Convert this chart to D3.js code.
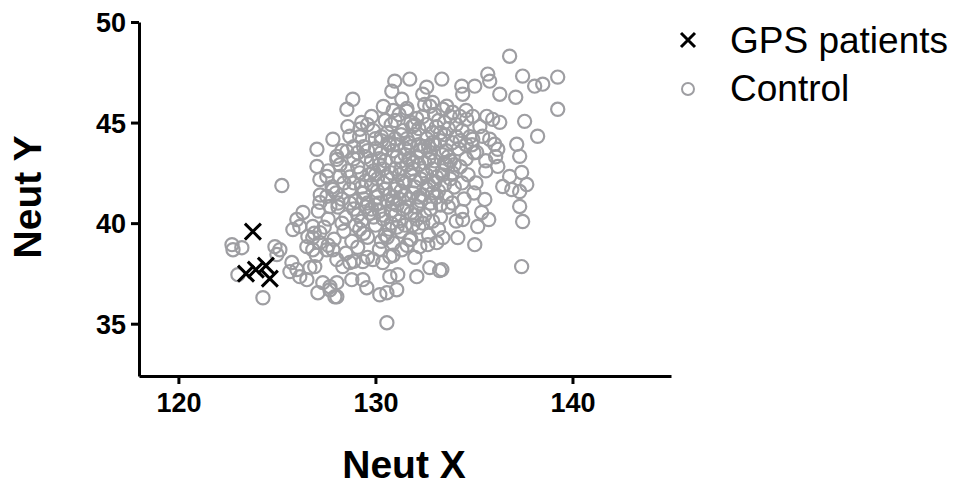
<!DOCTYPE html>
<html>
<head>
<meta charset="utf-8">
<script src="https://d3js.org/d3.v7.min.js"></script>
<style>
  body { margin: 0; background: #fff; }
  svg text { font-family: "Liberation Sans", Arial, Helvetica, sans-serif; }
</style>
</head>
<body>
<script>
// GPS patients (Neut X, Neut Y)
const gpsX = [123.78, 123.43, 123.93, 124.44, 124.64];
const gpsY = [39.58, 37.49, 37.69, 37.89, 37.24];

// control points, [Neut X, Neut Y]
const controlEdge = [
  [122.72,38.93],[122.77,38.68],[123.22,38.78],[123.02,37.44],[124.29,36.29],[125.25,41.87],
  [124.9,38.83],[125.15,38.68],[125.0,38.44],[127.03,42.82],[127.03,43.67],[128.04,43.17],
  [127.18,42.17],[127.53,42.32],[126.01,40.18],[126.32,40.53],[126.16,39.83],[125.81,39.68],
  [126.82,39.83],[127.18,39.53],[126.82,39.28],[126.57,39.33],[125.76,38.04],[126.01,37.69],
  [126.16,37.34],[125.66,37.59],[126.67,37.79],[126.92,37.84],[126.52,37.19],[127.08,36.54],
  [127.69,36.69],[127.94,36.34],[128.04,37.04],[127.33,37.04],[126.52,38.83],[126.82,38.68],
  [127.18,39.03],[127.53,38.68],[127.84,38.68],[127.69,40.83],[127.84,41.67],[127.53,41.33],
  [127.18,41.03],
  [130.58,35.05],[128.04,36.34],[127.69,36.84],[128.80,37.19],[129.36,37.19],[129.56,36.79],
  [130.22,36.44],[130.58,36.54],[131.08,36.69],[130.73,37.34],[131.13,37.44],[132.10,37.34],
  [132.76,37.79],[133.26,37.64],[132.25,38.83],[132.66,38.93],[133.11,39.03],[133.42,39.28],
  [131.74,39.18],[131.34,38.68],[130.73,38.34],[130.37,38.04],[129.87,38.19],[129.36,38.09],
  [128.34,37.84],[128.70,38.04],[128.04,38.19],
  [136.46,41.82],[136.92,41.67],[137.32,41.57],[137.68,41.92],[135.55,41.18],[137.32,40.83],
  [135.39,40.53],[135.75,40.18],[137.47,40.08],[135.19,39.83],[134.43,40.18],[134.38,40.58],
  [134.18,39.28],[135.04,38.93],[137.42,37.84],[133.37,37.69],
  [136.81,48.3],[135.70,47.41],[135.80,47.06],[137.47,47.31],[138.08,46.81],[138.49,46.91],
  [139.25,47.26],[133.37,47.16],[134.38,46.81],[134.43,46.41],[135.04,46.81],[136.31,46.41],
  [137.12,46.26],[139.25,45.66],[137.57,45.06],[138.23,44.32],[137.17,43.92],[137.32,43.32],
  [136.21,42.82],[137.42,42.52],[136.81,42.32],[135.95,45.16],[136.31,45.01],[135.65,45.31],
  [135.44,44.32],[135.80,44.17],[136.05,43.92],[136.21,43.67],[134.94,44.17],[135.14,43.52],
  [133.62,45.81],[133.92,45.51],[134.28,45.31],[134.63,45.16],[134.94,45.31],
  [130.98,47.06],[131.74,47.16],[130.83,46.56],[132.60,46.76],[132.40,46.41],[131.34,46.16],
  [128.85,46.16],[128.55,45.66],[127.84,44.17],[129.21,44.67],[128.70,44.32],[128.04,43.32],
  [128.55,43.57],[128.19,42.32],[131.59,45.56],[131.89,44.82],[132.76,45.81],[133.42,45.66]
];

const controlCore = [
  [129.8,45.3],[130.4,45.8],[131.0,45.1],[131.6,45.7],[132.1,45.2],[132.5,45.9],[133.0,45.4],
  [133.5,45.0],[134.1,44.9],[130.9,45.6],[129.3,45.0],[132.9,46.0],
  [128.6,44.8],[129.2,44.3],[129.9,44.6],[130.3,44.1],[130.8,44.9],[131.3,44.4],[131.7,44.0],
  [132.2,44.7],[132.6,44.2],[133.1,44.8],[133.5,44.4],[133.9,44.0],[134.4,44.6],[134.8,44.3],
  [135.3,44.8],[131.0,44.2],[132.0,44.4],[133.3,44.1],[129.6,44.9],[130.6,44.5],[132.9,44.5],
  [134.1,44.3],
  [128.3,43.6],[128.9,43.2],[129.4,43.8],[129.8,43.1],[130.3,43.5],[130.7,43.9],[131.1,43.3],
  [131.5,43.7],[131.9,43.0],[132.3,43.6],[132.7,43.2],[133.0,43.9],[133.4,43.4],[133.8,43.1],
  [134.2,43.7],[134.6,43.2],[135.0,43.5],[135.6,43.1],[136.1,43.3],[130.0,43.7],[131.3,43.1],
  [132.5,43.8],[133.6,43.6],[129.1,43.5],[132.1,43.3],[134.9,43.9],
  [127.6,42.6],[128.2,42.9],[128.7,42.3],[129.1,42.8],[129.5,42.1],[129.9,42.6],[130.2,42.9],
  [130.6,42.3],[131.0,42.7],[131.4,42.1],[131.8,42.5],[132.2,42.9],[132.6,42.4],[133.0,42.0],
  [133.4,42.6],[133.8,42.2],[134.3,42.8],[134.7,42.4],[135.1,42.0],[135.6,42.6],[130.4,42.0],
  [131.6,42.9],[132.9,42.7],[128.9,42.0],[133.6,42.9],[130.8,42.5],[132.3,42.2],
  [127.2,41.4],[127.8,41.8],[128.3,41.2],[128.7,41.7],[129.0,41.1],[129.4,41.5],[129.8,41.9],
  [130.1,41.3],[130.5,41.7],[130.9,41.0],[131.3,41.6],[131.7,41.2],[132.0,41.8],[132.4,41.4],
  [132.8,41.0],[133.2,41.6],[133.6,41.3],[134.0,41.8],[134.5,41.2],[135.0,41.5],[129.6,41.0],
  [131.1,41.9],[132.6,41.7],[128.0,41.5],[130.7,41.4],[133.9,41.0],
  [127.1,40.6],[127.6,40.2],[128.1,40.8],[128.5,40.3],[128.9,40.7],[129.3,40.1],[129.7,40.5],
  [130.0,40.9],[130.4,40.2],[130.8,40.6],[131.2,40.1],[131.6,40.8],[132.0,40.4],[132.4,40.0],
  [132.8,40.7],[133.3,40.3],[133.7,40.8],[134.1,40.1],[129.5,40.8],[131.0,40.4],[128.3,40.0],
  [130.2,40.6],
  [126.9,39.5],[127.4,39.8],[127.9,39.2],[128.4,39.6],[128.8,39.1],[129.2,39.7],[129.6,39.3],
  [130.0,39.9],[130.5,39.4],[130.9,39.0],[131.3,39.6],[131.8,39.2],[132.2,39.8],[132.7,39.4],
  [133.2,39.7],[129.0,39.9],[130.3,39.1],[131.5,39.9],
  [127.0,38.4],[127.6,38.9],[128.5,38.5],[129.1,38.8],[129.6,38.3],[130.2,38.7],[130.9,38.4],
  [131.6,38.9],[132.0,38.3],[128.9,38.1],
  [129.7,42.4],[130.1,42.2],[130.5,43.1],[130.9,43.6],[131.2,42.4],[131.5,43.4],[131.9,42.7],
  [132.2,43.9],[132.5,43.0],[132.8,43.5],[133.1,42.3],[133.5,43.0],[131.4,44.6],[132.0,44.9],
  [132.4,45.3],[133.2,45.1],[130.1,41.6],[130.6,41.1],[131.0,41.7],[131.4,40.7],[131.9,41.5],
  [132.3,41.1],[132.7,41.9],[133.1,41.3],[129.3,41.8],[129.9,40.3],[130.7,39.7],[131.1,40.9],
  [132.1,40.8],[132.9,40.1],[130.3,44.3],[129.5,43.3],[128.6,42.6],[128.1,41.0],[133.9,42.5],
  [134.4,42.0],[134.6,43.9],[133.7,44.7],[130.8,40.0],[129.4,39.5],
  [129.2,42.5],[129.6,43.6],[130.0,44.2],[130.4,42.7],[130.7,44.0],[131.1,43.9],[131.3,42.7],
  [131.7,43.2],[132.0,42.1],[132.4,42.6],[132.7,43.8],[133.0,43.1],[133.3,44.5],[133.7,43.3],
  [134.0,42.9],[134.3,44.1],[131.8,45.0],[132.6,44.9],[130.5,45.1],[131.2,45.4],
  [129.4,41.2],[129.8,40.7],[130.2,41.0],[130.4,40.4],[130.9,41.3],[131.2,41.2],[131.5,42.0],
  [131.8,40.5],[132.2,41.3],[132.5,40.4],[132.9,41.5],[133.3,40.9],[133.5,41.9],[130.6,39.3],
  [131.1,39.8],[131.9,39.9],[129.1,40.4],[128.7,41.0],[128.4,42.0],[128.9,43.8],
  [131.6,44.2],[132.9,44.0],[133.8,45.3],[134.6,45.6],[130.2,43.2],[131.8,43.8],[133.4,42.4],
  [132.1,40.2],[130.0,42.4],[131.5,41.4]
];

const xTicks = [120, 130, 140];
const yTicks = [35, 40, 45, 50];
const seriesNames = ["GPS patients", "Control"];

const W = 966, H = 485;
const gray = "#9e9ea2";

const svg = d3.select("body").append("svg")
  .attr("width", W).attr("height", H);

const x = d3.scaleLinear().domain([118, 145]).range([139, 671]);
const y = d3.scaleLinear().domain([32.4, 50]).range([376, 22]);

// control circles
const control = controlEdge.concat(controlCore);
svg.append("g").selectAll("circle")
  .data(control)
  .join("circle")
  .attr("cx", d => x(d[0]))
  .attr("cy", d => y(d[1]))
  .attr("r", 6.6)
  .attr("fill", "none")
  .attr("stroke", gray)
  .attr("stroke-width", 2.2);

// GPS crosses
const cross = s => `M${-s},${-s}L${s},${s}M${-s},${s}L${s},${-s}`;
svg.append("g").selectAll("path")
  .data(gpsX.map((v, i) => [v, gpsY[i]]))
  .join("path")
  .attr("transform", d => `translate(${x(d[0])},${y(d[1])})`)
  .attr("d", cross(8))
  .attr("stroke", "#000")
  .attr("stroke-width", 3)
  .attr("fill", "none");

// axes
const xAxis = svg.append("g")
  .attr("transform", `translate(0,${y.range()[0]})`)
  .call(d3.axisBottom(x).tickValues(xTicks).tickSize(8).tickSizeOuter(0).tickPadding(9));
const yAxis = svg.append("g")
  .attr("transform", `translate(${x.range()[0]},0)`)
  .call(d3.axisLeft(y).tickValues(yTicks).tickSize(8).tickSizeOuter(0).tickPadding(5));

[xAxis, yAxis].forEach(a => {
  a.select(".domain").attr("stroke", "#000").attr("stroke-width", 3);
  a.selectAll(".tick line").attr("stroke", "#000").attr("stroke-width", 3);
  a.selectAll(".tick text")
    .attr("fill", "#000")
    .style("font-size", "27px")
    .style("font-weight", "bold");
});
yAxis.selectAll(".tick text").attr("dy", "0.36em");

// axis titles
svg.append("text")
  .attr("x", 404).attr("y", 478)
  .attr("text-anchor", "middle")
  .style("font-size", "39px").style("font-weight", "bold")
  .text("Neut X");
svg.append("text")
  .attr("transform", "translate(41,197) rotate(-90)")
  .attr("text-anchor", "middle")
  .style("font-size", "39px").style("font-weight", "bold")
  .text("Neut Y");

// legend
const leg = svg.append("g");
leg.append("path")
  .attr("transform", "translate(688,40)")
  .attr("d", cross(7))
  .attr("stroke", "#000").attr("stroke-width", 3).attr("fill", "none");
leg.append("circle")
  .attr("cx", 688).attr("cy", 89).attr("r", 6)
  .attr("fill", "none").attr("stroke", gray).attr("stroke-width", 2);
leg.selectAll("text")
  .data(seriesNames)
  .join("text")
  .attr("x", 730)
  .attr("y", (d, i) => 53 + i * 48)
  .style("font-size", "37px")
  .text(d => d);
</script>
</body>
</html>
